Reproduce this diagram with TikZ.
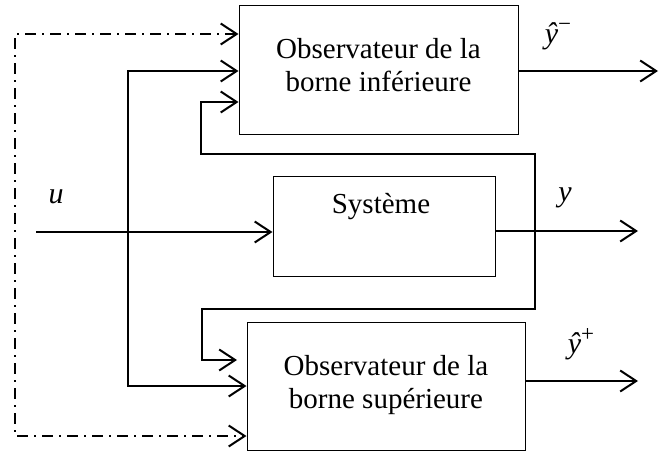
\documentclass[tikz,border=0pt]{standalone}
\usepackage{fontspec}
\setmainfont{Liberation Serif}
\usetikzlibrary{arrows.meta}
\newcommand{\supm}[1]{\raisebox{0.4em}{\fontsize{23}{23}\selectfont #1}}
\begin{document}
\begin{tikzpicture}[x=1pt,y=-1pt,
  blk/.style={draw, line width=1pt, inner sep=0pt},
  txt/.style={font=\fontsize{29}{33}\selectfont, align=center, inner sep=0pt},
  lbl/.style={font=\fontsize{30}{32}\selectfont\itshape, inner sep=0pt},
  barb/.tip={Straight Barb[length=16pt,width=21pt,line width=2pt]},
  sig/.style={line width=2.2pt, -barb},
  sig2/.style={line width=2.2pt, barb-barb},
  dd/.style={sig2, dash pattern=on 11pt off 6pt on 2pt off 6pt}]
\useasboundingbox (0,0) rectangle (659,452);
% blocks
\node[blk, minimum width=279pt, minimum height=128pt] (obsinf) at (378.5,70) {};
\node[blk, minimum width=222pt, minimum height=100pt] (sys) at (384,226) {};
\node[blk, minimum width=278pt, minimum height=128pt] (obssup) at (386,386) {};
% texts
\node[txt] (tinf) at (378.5,65) {Observateur de la\\borne inférieure};
\node[txt, anchor=base] (tsys) at (381,213) {Système};
\node[txt] (tsup) at (386,385) {Observateur de la\\borne supérieure};
% labels
\node[lbl] (lu) at (56,197) {u};
\node[lbl] (ly) at (565,198) {y};
\node[lbl] (lym) at (558,36) {ŷ\supm{\upshape −}};
\node[lbl] (lyp) at (581,344) {ŷ\supm{\upshape +}};
% free ends
\coordinate (uin) at (36,232);
\coordinate (yout) at (638,231);
\coordinate (ymout) at (658,71);
\coordinate (ypout) at (638,381);
\coordinate (fbend) at (237,360);
% dash-dot line
\draw[dd] (obsinf.west |- 0,34) -| (15,436) -- (obssup.west |- 0,436);
% u split
\draw[sig2] (obsinf.west |- 0,71) -| (128,386) -- (obssup.west |- 0,386);
% u input
\draw[sig] (uin) -- (sys.west |- uin);
% system output
\draw[sig] (sys.east |- yout) -- (yout);
% feedback loop
\draw[sig2] (obsinf.west |- 0,102) -| (201,154) -| (535,309) -| (202,360) -- (fbend);
% observer outputs
\draw[sig] (obsinf.east |- ymout) -- (ymout);
\draw[sig] (obssup.east |- ypout) -- (ypout);
\end{tikzpicture}
\end{document}
